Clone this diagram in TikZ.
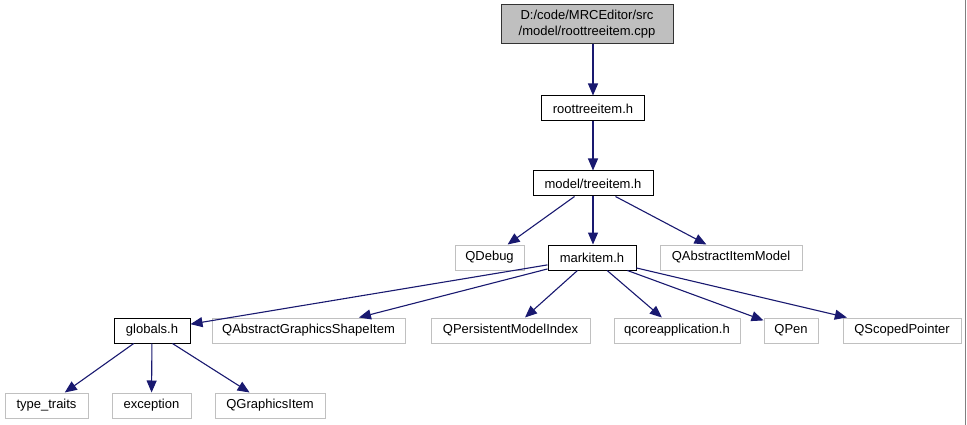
\documentclass[tikz,border=0pt]{standalone}
\usepackage{fontspec}
\setmainfont{Liberation Sans}
\usetikzlibrary{arrows.meta}
\definecolor{edgeblue}{RGB}{25,25,112}
\definecolor{rootfill}{RGB}{191,191,191}
\definecolor{lightborder}{RGB}{192,192,192}
\tikzset{
  box/.style={draw=black, line width=1pt, fill=white, inner sep=0pt, minimum height=25pt, font=\fontsize{13}{15}\selectfont},
  extbox/.style={draw=lightborder, line width=1pt, fill=white, inner sep=0pt, minimum height=25pt, font=\fontsize{13}{15}\selectfont},
  rootbox/.style={draw=black!80, line width=1pt, fill=rootfill, inner sep=0pt, minimum height=39pt, align=center, font=\fontsize{13}{16}\selectfont},
  deptip/.tip={Triangle[length=12pt,width=10pt]},
  dep/.style={draw=edgeblue, line width=1.1pt, -deptip}
}
\begin{document}
\begin{tikzpicture}[x=1pt,y=1pt]
\useasboundingbox (0,-425) rectangle (967,0);
\fill[white] (0,-425) rectangle (967,0);
\draw[gray, line width=1.5pt] (965.5,0) -- (965.5,-425);

\node[rootbox, minimum width=172pt] (root) at (587,-24.5) {D:/code/MRCEditor/src\\/model/roottreeitem.cpp};
\node[box, minimum width=103pt] (rti) at (593,-108.5) {roottreeitem.h};
\node[box, minimum width=120pt] (ti) at (593,-183.5) {model/treeitem.h};
\node[extbox, minimum width=69pt] (qdebug) at (489.5,-257.5) {QDebug};
\node[box, minimum width=88pt] (mark) at (592,-257.5) {markitem.h};
\node[extbox, minimum width=142pt] (qaim) at (731,-257.5) {QAbstractItemModel};
\node[box, minimum width=76pt] (glob) at (152,-330.5) {globals.h};
\node[extbox, minimum width=193pt] (qagsi) at (308.5,-330.5) {QAbstractGraphicsShapeItem};
\node[extbox, minimum width=159pt] (qpmi) at (510.5,-330.5) {QPersistentModelIndex};
\node[extbox, minimum width=126pt] (qcore) at (677,-330.5) {qcoreapplication.h};
\node[extbox, minimum width=54pt] (qpen) at (791,-330.5) {QPen};
\node[extbox, minimum width=118pt] (qsp) at (902,-330.5) {QScopedPointer};
\node[extbox, minimum width=83pt] (tt) at (46.5,-405.5) {type\_traits};
\node[extbox, minimum width=79pt] (exc) at (151.5,-405.5) {exception};
\node[extbox, minimum width=110pt] (qgi) at (270,-405.5) {QGraphicsItem};

\coordinate (a1) at (rti.north |- root.south);
\coordinate (a2) at (ti.north |- rti.south);
\coordinate (a3) at ([xshift=42pt]ti.south west);
\coordinate (a4) at ([xshift=-38pt]ti.south east);
\coordinate (a5) at (ti.south |- mark.north);
\draw[dep] (a1) -- (rti.north);
\draw[dep] (a2) -- (ti.north);
\draw[dep] (a3) -- (qdebug);
\draw[dep] (ti.south) -- (a5);
\draw[dep] (a4) -- (qaim);
\draw[dep] (mark) -- (glob);
\draw[dep] (mark) -- (qagsi);
\draw[dep] (mark) -- (qpmi);
\draw[dep] (mark) -- (qcore);
\draw[dep] (mark) -- (qpen);
\draw[dep] (mark) -- (qsp);
\draw[dep] (glob) -- (tt);
\draw[dep] (glob) -- (exc);
\draw[dep] (glob) -- (qgi);
\end{tikzpicture}
\end{document}
